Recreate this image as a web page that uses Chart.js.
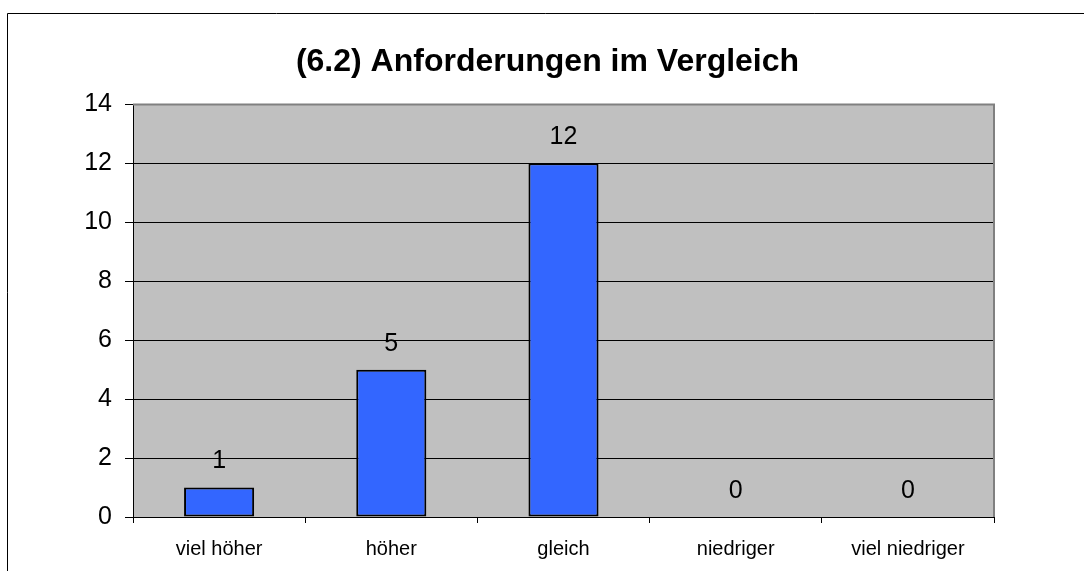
<!DOCTYPE html>
<html>
<head>
<meta charset="utf-8">
<script src="https://cdn.jsdelivr.net/npm/chart.js@4"></script>
<style>
html,body{margin:0;padding:0;background:#fff;}
#wrap{width:1084px;height:571px;position:relative;}
</style>
</head>
<body>
<div id="wrap"><canvas id="c" width="1084" height="571"></canvas></div>
<script>
const categories = ["viel höher", "höher", "gleich", "niedriger", "viel niedriger"];
const values = [1, 5, 12, 0, 0];
const yTicks = [0, 2, 4, 6, 8, 10, 12, 14];
const titleText = "(6.2) Anforderungen im Vergleich";

const FONT = "'Liberation Sans', Arial, sans-serif";

const framePlugin = {
  id: 'frame',
  beforeDraw(chart) {
    const ctx = chart.ctx;
    const a = chart.chartArea;
    ctx.save();
    ctx.fillStyle = '#ffffff';
    ctx.fillRect(0, 0, chart.width, chart.height);
    ctx.strokeStyle = '#000000';
    ctx.lineWidth = 1;
    ctx.beginPath();
    ctx.moveTo(7.5, chart.height);
    ctx.lineTo(7.5, 13.5);
    ctx.lineTo(chart.width, 13.5);
    ctx.stroke();
    ctx.fillStyle = '#c0c0c0';
    ctx.fillRect(a.left, a.top, a.right - a.left, a.bottom - a.top);
    ctx.restore();
  },
  afterDraw(chart) {
    const ctx = chart.ctx;
    const a = chart.chartArea;
    ctx.save();
    ctx.strokeStyle = '#808080';
    ctx.lineWidth = 2;
    ctx.beginPath();
    ctx.moveTo(a.left, a.top);
    ctx.lineTo(a.right, a.top);
    ctx.lineTo(a.right, a.bottom);
    ctx.stroke();
    ctx.restore();
  }
};

const labelPlugin = {
  id: 'valueLabels',
  afterDatasetsDraw(chart) {
    const ctx = chart.ctx;
    const meta = chart.getDatasetMeta(0);
    ctx.save();
    ctx.font = "25px " + FONT;
    ctx.fillStyle = '#000000';
    ctx.textAlign = 'center';
    ctx.textBaseline = 'middle';
    meta.data.forEach((bar, i) => {
      ctx.fillText(String(values[i]), bar.x, bar.y - 26);
    });
    ctx.restore();
  }
};

new Chart(document.getElementById('c'), {
  type: 'bar',
  data: {
    labels: categories,
    datasets: [{
      data: values,
      backgroundColor: '#3366ff',
      borderColor: '#000000',
      borderWidth: ctx => (values[ctx.dataIndex] === 0 ? 0 : 2),
      borderSkipped: false,
      categoryPercentage: 1.0,
      barPercentage: 0.407
    }]
  },
  options: {
    responsive: false,
    animation: false,
    devicePixelRatio: 1,
    layout: { padding: { left: 11, right: 0, top: 0, bottom: 0 } },
    plugins: {
      legend: { display: false },
      tooltip: { enabled: false },
      title: {
        display: true,
        text: titleText,
        color: '#000000',
        font: { family: FONT, size: 32, weight: 'bold' },
        padding: { top: 43, bottom: 23 }
      }
    },
    scales: {
      x: {
        grid: {
          display: true,
          drawOnChartArea: false,
          drawTicks: true,
          tickLength: 6,
          color: '#000000',
          offset: true
        },
        border: { display: true, color: '#000000', width: 1 },
        ticks: {
          color: '#000000',
          font: { family: FONT, size: 20 },
          padding: 14,
          maxRotation: 0,
          autoSkip: false
        },
        afterFit(s) { s.height = 54; }
      },
      y: {
        min: 0,
        max: 14,
        afterBuildTicks(s) { s.ticks = yTicks.map(v => ({ value: v })); },
        grid: {
          color: '#000000',
          lineWidth: 1,
          drawTicks: true,
          tickLength: 8
        },
        border: { display: true, color: '#000000', width: 1 },
        ticks: {
          color: '#000000',
          font: { family: FONT, size: 25 },
          padding: 13
        },
        afterFit(s) { s.width = 122; }
      },
      yRight: {
        position: 'right',
        display: true,
        min: 0,
        max: 14,
        grid: { display: false, drawOnChartArea: false },
        border: { display: false },
        ticks: { display: false },
        afterFit(s) { s.width = 90; }
      }
    }
  },
  plugins: [framePlugin, labelPlugin]
});
</script>
</body>
</html>
